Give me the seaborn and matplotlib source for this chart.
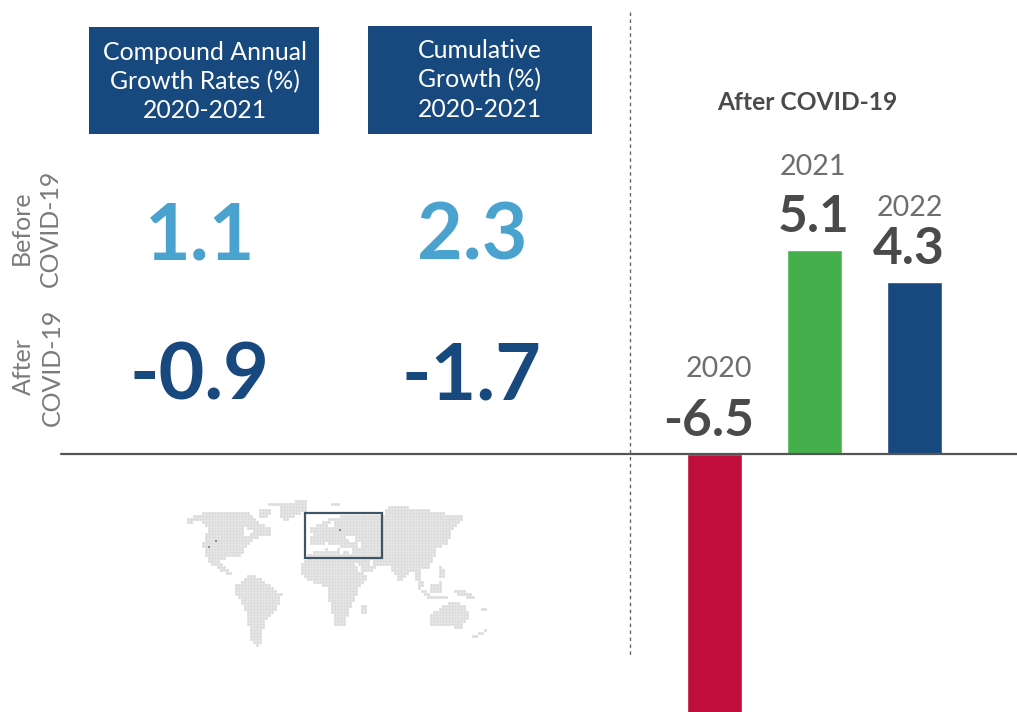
import numpy as np
import pandas as pd
import seaborn as sns
import matplotlib
matplotlib.use("Agg")
import matplotlib.pyplot as plt
from matplotlib.path import Path
from matplotlib.patches import Rectangle

# ---------- data ----------
years = ["2020", "2021", "2022"]
growth = [-6.5, 5.1, 4.3]
bar_colors = ["#c00d3b", "#44b04c", "#17497f"]
headers = ["Compound Annual\nGrowth Rates (%)\n2020-2021", "Cumulative\nGrowth (%)\n2020-2021"]
before_values = ["1.1", "2.3"]
after_values = ["-0.9", "-1.7"]
row_labels = ["Before\nCOVID-19", "After\nCOVID-19"]
panel_title = "After COVID-19"

# decorative dotted map outlines, in reference-crop units
land = [
    [(50,85),(110,65),(200,62),(245,70),(265,100),(300,110),(298,135),(250,145),(225,175),(205,200),(175,195),(150,215),(165,235),(190,255),(170,250),(125,225),(105,195),(95,160),(115,115),(90,90),(50,102)],
    [(290,40),(410,30),(405,60),(350,90),(335,90),(325,50)],
    [(195,285),(240,252),(280,272),(335,312),(325,345),(285,395),(272,440),(268,472),(245,460),(232,400),(222,350),(195,310)],
    [(415,150),(440,100),(480,85),(520,75),(640,70),(660,45),(750,55),(885,80),(850,110),(830,160),(800,175),(790,200),(770,240),(750,235),(760,290),(745,285),(725,235),(690,270),(680,265),(655,225),(620,225),(600,245),(575,250),(550,215),(540,195),(480,165),(430,175)],
    [(392,225),(415,190),(470,175),(550,200),(570,250),(600,250),(570,285),(550,330),(520,408),(495,408),(478,340),(470,290),(410,270),(388,240)],
    [(575,345),(592,335),(590,365),(575,375)],
    [(780,370),(840,335),(880,340),(898,375),(870,420),(845,405),(780,408)],
    [(740,280),(775,312),(765,318),(740,295)],
    [(778,285),(812,275),(815,305),(780,305)],
    [(850,298),(905,305),(912,322),(860,320)],
    [(770,315),(830,318),(830,325),(770,322)],
    [(800,225),(815,225),(830,265),(810,260)],
    [(825,125),(835,125),(830,150)],
    [(418,110),(445,105),(440,130),(420,132)],
    [(265,60),(300,55),(295,80),(270,78)],
    [(480,42),(505,40),(505,50),(480,50)],
    [(900,443),(950,415),(945,425),(905,447)],
    [(935,355),(945,355),(945,365),(935,365)],
    [(975,348),(985,348),(985,355),(975,355)],
]
water = [
    [(430,168),(470,158),(540,176),(545,188),(480,170),(432,176)],
    [(530,140),(556,140),(556,150),(535,150)],
    [(560,155),(568,155),(568,172),(560,172)],
    [(550,212),(555,212),(578,248),(572,248)],
    [(592,208),(602,208),(612,224),(602,224)],
    [(470,100),(495,88),(490,105),(475,112)],
    [(218,108),(245,122),(232,138),(218,132)],
    [(178,198),(205,205),(200,222),(180,220)],
]
highlight_dots = [(137,152),(117,172),(510,120)]

# ---------- figure ----------
sns.set_theme(style="white")
plt.rcParams["font.family"] = ["Lato", "DejaVu Sans"]
W, H = 1017, 712
fig = plt.figure(figsize=(W/100, H/100), dpi=100, facecolor="white")

# bar axes fills the figure; scale 40 px per unit, 100 px per category
bx = fig.add_axes([0, 0, 1, 1])
df = pd.DataFrame({"year": years, "growth": growth})
sns.barplot(data=df, x="year", y="growth", hue="year", palette=bar_colors,
            width=0.555, legend=False, ax=bx, saturation=1)
bx.set_xlim(-714.3/100, (W-714.3)/100)
bx.set_ylim(-(H-453.5)/40, 453.5/40)
bx.axis("off")

value_shift = [-0.06, -0.01, -0.06]
year_shift = [0.05, -0.01, -0.04]
year_rise = [51.5, 50, 43.5]
for i, (y, v) in enumerate(zip(years, growth)):
    top = max(v, 0)
    bx.annotate(f"{v}", (i + value_shift[i], top), xytext=(0, 6), textcoords="offset points", ha="center", va="bottom",
                fontsize=37, fontweight="bold", color="#4a4a4a")
    bx.annotate(y, (i + year_shift[i], top), xytext=(0, year_rise[i]), textcoords="offset points", ha="center", va="bottom",
                fontsize=20.5, color="#6e6e6e")

# overlay in pixel coordinates
ax = fig.add_axes([0, 0, 1, 1], facecolor="none")
ax.set_xlim(0, W)
ax.set_ylim(H, 0)
ax.axis("off")

ax.plot([61, W], [454, 454], color="#555555", lw=1.6)
ax.plot([630, 630], [12, 655], color="#666666", lw=1, ls=(0, (2.5, 2.5)))

boxes = [(89, 27, 230, 107), (368, 26, 224, 108)]
for (x, y, w, h), t in zip(boxes, headers):
    ax.add_patch(Rectangle((x, y), w, h, fc="#17497f", ec="none"))
    ax.text(x+w/2+(1 if x < 100 else 0), y+h/2+(1 if x < 100 else 0), t, ha="center", va="center", color="white", fontsize=17.9, linespacing=1.33)

for cx, b, a in zip([200, 472], before_values, after_values):
    ax.text(cx, 238, b, ha="center", va="center", color="#4aa3cf", fontsize=57, fontweight="bold")
    ax.text(cx, 378, a, ha="center", va="center", color="#17497f", fontsize=57, fontweight="bold")

ax.text(36, 228, row_labels[0], rotation=90, ha="center", va="center", color="#7a7a7a", fontsize=18, linespacing=1.3, multialignment="center")
ax.text(38, 367, row_labels[1], rotation=90, ha="center", va="center", color="#7a7a7a", fontsize=18, linespacing=1.3, multialignment="center")
ax.text(807, 103, panel_title, ha="center", va="center", color="#4a4a4a", fontsize=17.7, fontweight="bold")

# dotted map
gx, gy = np.meshgrid(np.arange(170, 505, 3.0), np.arange(495, 652, 3.0))
pts = np.c_[gx.ravel(), gy.ravel()]
zoomed = (pts - [170, 490]) * 3
mask = np.zeros(len(pts), bool)
for poly in land:
    mask |= Path(poly).contains_points(zoomed)
for poly in water:
    mask &= ~Path(poly).contains_points(zoomed)
dots = ax.scatter(pts[mask, 0] + 0.3, pts[mask, 1] + 0.3, s=3.6, marker="s", color="#d8d8d8", linewidths=0)
dots.set_snap(False)
hd = np.array(highlight_dots) / 3 + [170, 490]
ax.scatter(hd[:, 0], hd[:, 1], s=3, marker="s", color="#8a8a8a", linewidths=0)
ax.add_patch(Rectangle((305, 513), 77, 45, fc="none", ec="#3f5566", lw=1.6))

fig.savefig("out.png", dpi=100, facecolor="white")
